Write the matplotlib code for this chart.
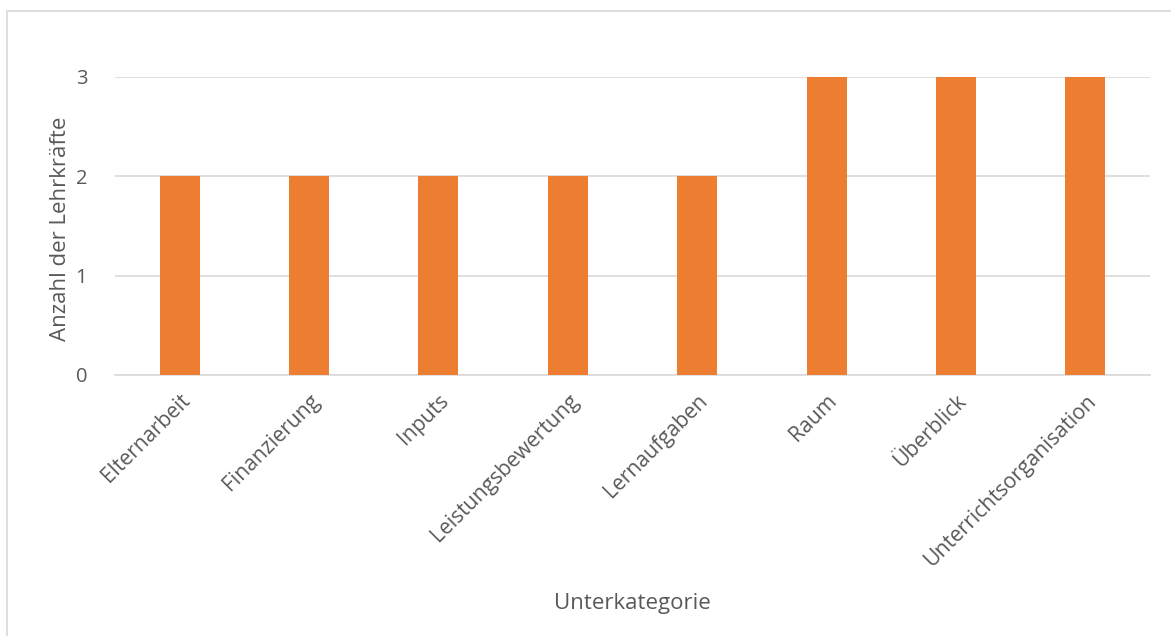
import matplotlib
matplotlib.use("Agg")
import matplotlib.pyplot as plt
from matplotlib.patches import Rectangle

categories = ["Elternarbeit", "Finanzierung", "Inputs", "Leistungsbewertung",
              "Lernaufgaben", "Raum", "Überblick", "Unterrichtsorganisation"]
values = [2, 2, 2, 2, 2, 3, 3, 3]
yticks = [0, 1, 2, 3]

plt.rcParams['font.family'] = ['Open Sans', 'DejaVu Sans']
text_color = "#595959"
W, H = 1171, 636
fig = plt.figure(figsize=(W / 100, H / 100), dpi=100)

# chart frame
fig.patches.append(Rectangle((7 / W, -0.1), 1.2, 1 - 11 / H + 0.1, transform=fig.transFigure,
                             fill=False, edgecolor="#d9d9d9", linewidth=1.2))

ax = fig.add_axes([115 / W, 1 - 375 / H, (1150 - 115) / W, (375 - 77) / H])
x = list(range(len(categories)))
ax.bar(x, values, width=0.31, color="#ed7d31", zorder=3)
ax.set_xlim(-0.5, len(categories) - 0.5)
ax.set_ylim(0, 3)
ax.set_yticks(yticks)
ax.set_yticklabels([str(v) for v in yticks], fontsize=14.5, color=text_color)
ax.yaxis.grid(True, color="#d9d9d9", linewidth=1.2, zorder=0)
ax.set_xticks(x)
ax.set_xticklabels(categories, rotation=45, ha="right", rotation_mode="anchor",
                   fontsize=15.2, color=text_color)
ax.tick_params(axis="both", length=0)
ax.tick_params(axis="y", pad=20)
ax.tick_params(axis="x", pad=11)
for s in ["top", "right", "left"]:
    ax.spines[s].set_visible(False)
ax.spines["bottom"].set_color("#d9d9d9")
ax.spines["bottom"].set_linewidth(1.2)

fig.text(60 / W, 1 - 229 / H, "Anzahl der Lehrkräfte", rotation=90, ha="center", va="center",
         fontsize=16, color=text_color)
fig.text(632 / W, 1 - 603 / H, "Unterkategorie", ha="center", va="center",
         fontsize=16, color=text_color)

fig.savefig("out.png", dpi=100, facecolor="white")
